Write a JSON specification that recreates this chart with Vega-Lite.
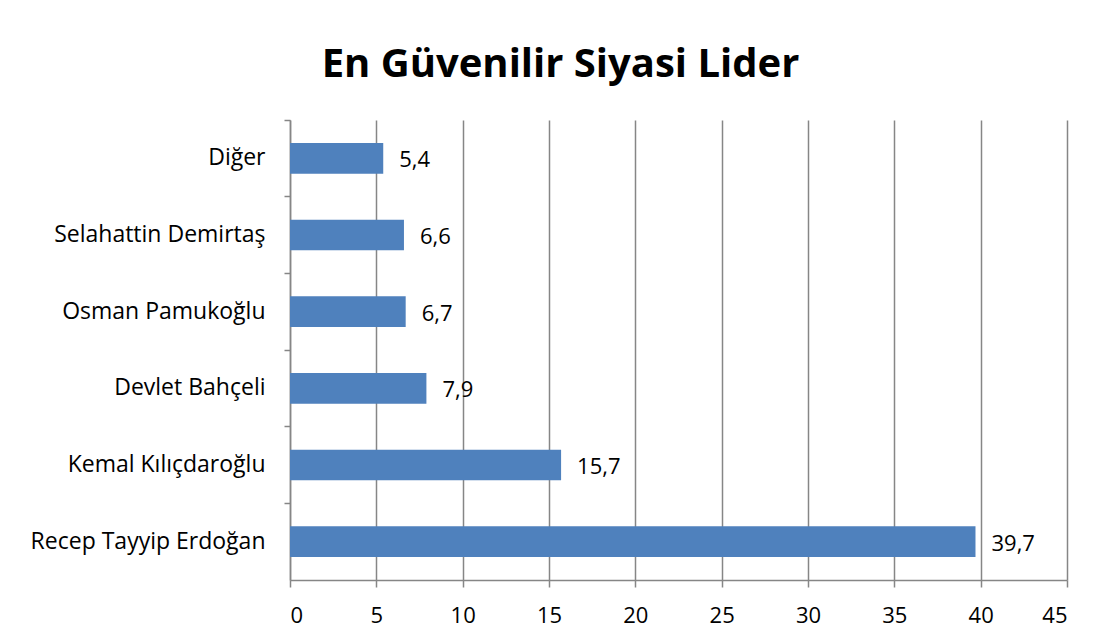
{
  "$schema": "https://vega.github.io/schema/vega-lite/v6.json",
  "autosize": "none",
  "width": 777,
  "height": 460,
  "padding": {"left": 290, "top": 120, "right": 53, "bottom": 64},
  "background": "white",
  "title": {
    "text": "En Güvenilir Siyasi Lider",
    "font": "Open Sans",
    "fontSize": 40,
    "fontWeight": "bold",
    "color": "black",
    "anchor": "middle",
    "frame": "group",
    "dx": -118,
    "offset": 34
  },
  "data": {
    "values": [
      {"lider": "Diğer", "oran": 5.4, "etiket": "5,4"},
      {"lider": "Selahattin Demirtaş", "oran": 6.6, "etiket": "6,6"},
      {"lider": "Osman Pamukoğlu", "oran": 6.7, "etiket": "6,7"},
      {"lider": "Devlet Bahçeli", "oran": 7.9, "etiket": "7,9"},
      {"lider": "Kemal Kılıçdaroğlu", "oran": 15.7, "etiket": "15,7"},
      {"lider": "Recep Tayyip Erdoğan", "oran": 39.7, "etiket": "39,7"}
    ]
  },
  "encoding": {
    "y": {
      "field": "lider",
      "type": "nominal",
      "sort": null,
      "scale": {"paddingInner": 0, "paddingOuter": 0},
      "axis": {
        "title": null,
        "bandPosition": 0,
        "grid": false,
        "domainColor": "#868686",
        "domainWidth": 1.5,
        "tickColor": "#868686",
        "tickWidth": 1.5,
        "tickSize": 6,
        "labelFont": "Open Sans",
        "labelFontSize": 23,
        "labelColor": "black",
        "labelPadding": 19,
        "labelLimit": 0
      }
    },
    "x": {
      "field": "oran",
      "type": "quantitative",
      "scale": {"domain": [0, 45], "nice": false},
      "axis": {
        "title": null,
        "values": [0, 5, 10, 15, 20, 25, 30, 35, 40, 45],
        "grid": true,
        "gridColor": "#868686",
        "gridWidth": 1.5,
        "domainColor": "#868686",
        "domainWidth": 1.5,
        "tickColor": "#868686",
        "tickWidth": 1.5,
        "tickSize": 7,
        "labelFont": "Open Sans",
        "labelFontSize": 22,
        "labelColor": "black",
        "labelPadding": 18
      }
    }
  },
  "layer": [
    {
      "mark": {"type": "bar", "color": "#4F81BD", "height": {"band": 0.4}}
    },
    {
      "mark": {"type": "text", "align": "left", "baseline": "middle", "dx": 16, "dy": 2, "font": "Open Sans", "fontSize": 22, "color": "black"},
      "encoding": {"text": {"field": "etiket"}}
    }
  ],
  "config": {"view": {"stroke": null}}
}
